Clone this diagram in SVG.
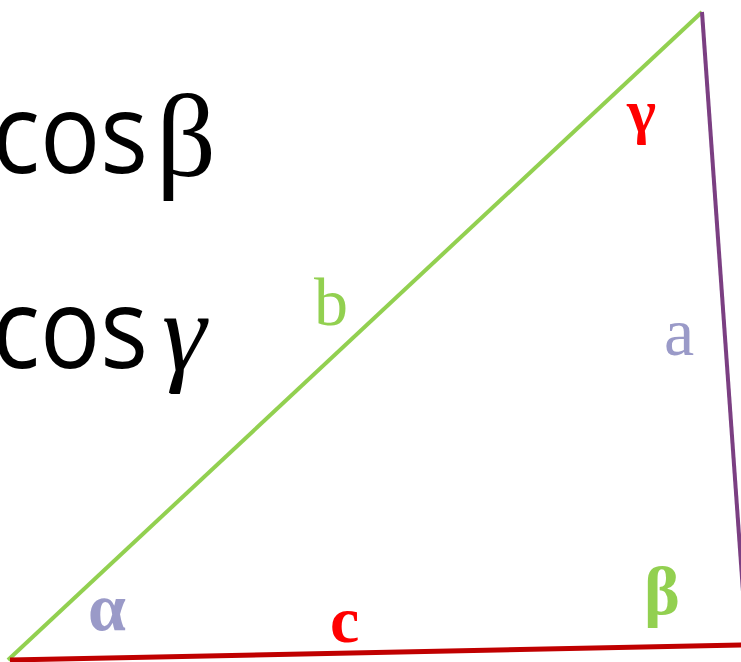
<svg xmlns="http://www.w3.org/2000/svg" width="741" height="662" viewBox="0 0 741 662">
<style>
.big{font-family:"Open Sans","Liberation Sans",sans-serif;font-size:112px;fill:#000}
.gk{font-family:"Liberation Serif","DejaVu Serif",serif;fill:#000}
.lbl{font-family:"Liberation Serif","DejaVu Serif",serif}
</style>
<rect width="741" height="662" fill="#fff"/>
<g id="formula1">
<text class="big" x="-8" y="173" textLength="156" lengthAdjust="spacingAndGlyphs">cos</text>
<text class="gk" x="156" y="176" font-size="118">β</text>
</g>
<g id="formula2">
<text class="big" x="-8" y="368" textLength="156" lengthAdjust="spacingAndGlyphs">cos</text>
<text class="gk" x="162" y="370" font-size="112" font-style="italic">γ</text>
</g>
<g id="connectors">
<line x1="8" y1="660" x2="702" y2="12" stroke="#92D050" stroke-width="4"/>
<line x1="702" y1="12" x2="745" y2="620" stroke="#7B3F82" stroke-width="4"/>
<line x1="10" y1="660" x2="745" y2="645" stroke="#C00000" stroke-width="5"/>
</g>
<g id="labels">
<text class="lbl" x="314" y="325" font-size="68" fill="#92D050">b</text>
<text class="lbl" x="664" y="355" font-size="68" fill="#9A9AC8">a</text>
<text class="lbl" x="330" y="642" font-size="66" font-weight="bold" fill="#FF0000">c</text>
<text class="lbl" x="88" y="630" font-size="68" font-weight="bold" fill="#9A9AC8">α</text>
<text class="lbl" x="644" y="614" font-size="68" font-weight="bold" fill="#92D050">β</text>
<text class="lbl" x="627" y="132" font-size="62" font-weight="bold" fill="#FF0000">γ</text>
</g>
</svg>
